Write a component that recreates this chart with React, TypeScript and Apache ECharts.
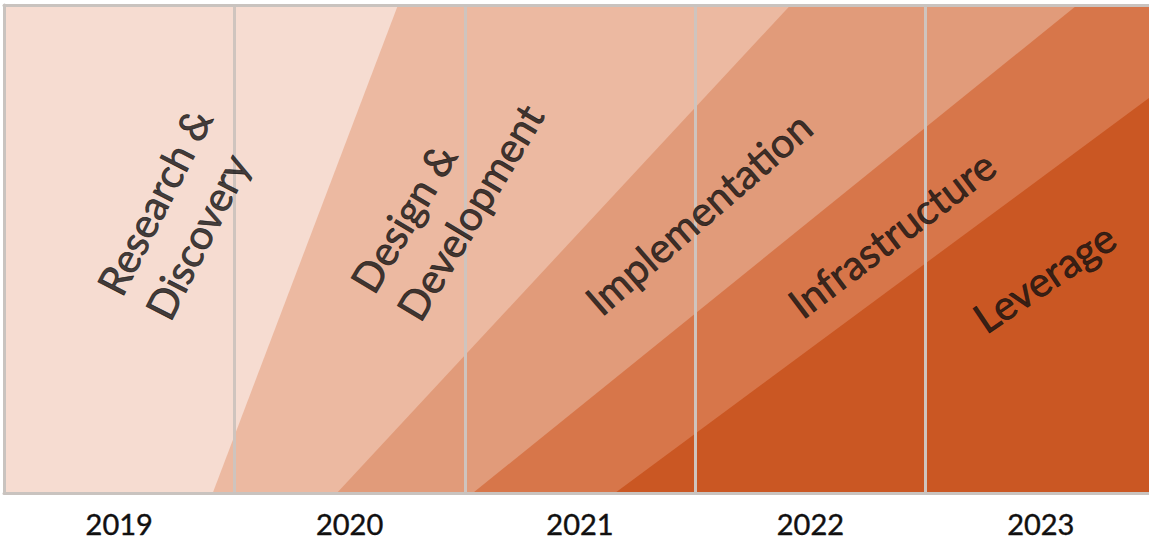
import React, { useEffect, useRef } from "react";
import * as echarts from "echarts";

// Year columns (category axis)
const years = ["2019", "2020", "2021", "2022", "2023"];

// Phase names shown as rotated labels
const phaseNames = [
  "Research &\nDiscovery",
  "Design &\nDevelopment",
  "Implementation",
  "Infrastructure",
  "Leverage",
];

// Band boundaries: [x in year-columns (0..5), y in % of height (0..100)]
const designBoundary = [[0.906, 0], [1.71, 100], [5, 100]];
const implementationBoundary = [[1.445, 0], [3.414, 100], [5, 100]];
const infrastructureBoundary = [[2.035, 0], [4.658, 100], [5, 100]];
const leverageBoundary = [[2.652, 0], [5, 82]];

// Where each phase label starts (left edge, middle), same units as above
const phaseLabelX = [0.558, 1.65, 2.55, 3.426, 4.226];
const phaseLabelY = [38.8, 39.1, 38.3, 37.9, 35.0];
const phaseLabelAngle = [63, 59, 41, 37, 34];

const bandColors = ["#ecb9a1", "#e19b7a", "#d7764a", "#ca5723"];
const backgroundColor = "#f6dcd1";
const frameColor = "#c9c3bf";
const dividerColor = "#cfc4be";
const textColor = "#111010";
const fontFamily = "Lato, 'Open Sans', sans-serif";

export default function App() {
  const ref = useRef<HTMLDivElement>(null);

  useEffect(() => {
    if (!ref.current) return;
    const chart = echarts.init(ref.current, undefined, { renderer: "svg" });

    const boundaries = [
      designBoundary,
      implementationBoundary,
      infrastructureBoundary,
      leverageBoundary,
    ];

    const areaSeries = boundaries.map((data, i) => ({
      type: "line",
      xAxisIndex: 1,
      yAxisIndex: 0,
      data,
      symbol: "none",
      showSymbol: false,
      silent: true,
      lineStyle: { width: 0, opacity: 0 },
      areaStyle: { color: bandColors[i], opacity: 1 },
      z: 2,
    }));

    const labelData = phaseNames.map((name, i) => ({
      name,
      value: [phaseLabelX[i], phaseLabelY[i]],
      label: { rotate: phaseLabelAngle[i] },
    }));

    chart.setOption({
      animation: false,
      backgroundColor: "#ffffff",
      grid: {
        left: 4,
        right: 0,
        top: 5,
        bottom: 48,
        show: true,
        backgroundColor,
        borderWidth: 0,
      },
      xAxis: [
        {
          type: "category",
          data: years,
          boundaryGap: true,
          position: "bottom",
          z: 3,
          axisLine: { show: true, lineStyle: { color: frameColor, width: 3 } },
          axisTick: { show: false },
          axisLabel: {
            show: true,
            interval: 0,
            margin: 16,
            fontSize: 29,
            lineHeight: 28,
            fontFamily,
            color: textColor,
            textBorderColor: textColor,
            textBorderWidth: 0.4,
          },
          splitLine: {
            show: true,
            interval: 0,
            lineStyle: { color: dividerColor, width: 3 },
          },
        },
        {
          type: "value",
          min: 0,
          max: 5,
          position: "top",
          z: 3,
          axisLine: {
            show: true,
            onZero: false,
            lineStyle: { color: frameColor, width: 3 },
          },
          axisTick: { show: false },
          axisLabel: { show: false },
          splitLine: { show: false },
        },
      ],
      yAxis: {
        type: "value",
        min: 0,
        max: 100,
        z: 3,
        axisLine: {
          show: true,
          onZero: false,
          lineStyle: { color: frameColor, width: 3 },
        },
        axisTick: { show: false },
        axisLabel: { show: false },
        splitLine: { show: false },
      },
      series: [
        ...areaSeries,
        {
          type: "scatter",
          xAxisIndex: 1,
          yAxisIndex: 0,
          symbolSize: 0,
          silent: true,
          clip: false,
          z: 10,
          data: labelData,
          label: {
            show: true,
            position: "inside",
            align: "left",
            verticalAlign: "middle",
            formatter: (p: any) => p.name,
            fontSize: 41,
            lineHeight: 54,
            fontFamily,
            color: textColor,
            textBorderColor: textColor,
            textBorderWidth: 0.7,
          },
        },
      ],
    });

    return () => chart.dispose();
  }, []);

  return (
    <div
      style={{
        position: "fixed",
        left: 0,
        top: 0,
        width: 1149,
        height: 541,
        overflow: "hidden",
        background: "#ffffff",
      }}
    >
      <div ref={ref} style={{ width: 1156, height: 541 }} />
    </div>
  );
}
